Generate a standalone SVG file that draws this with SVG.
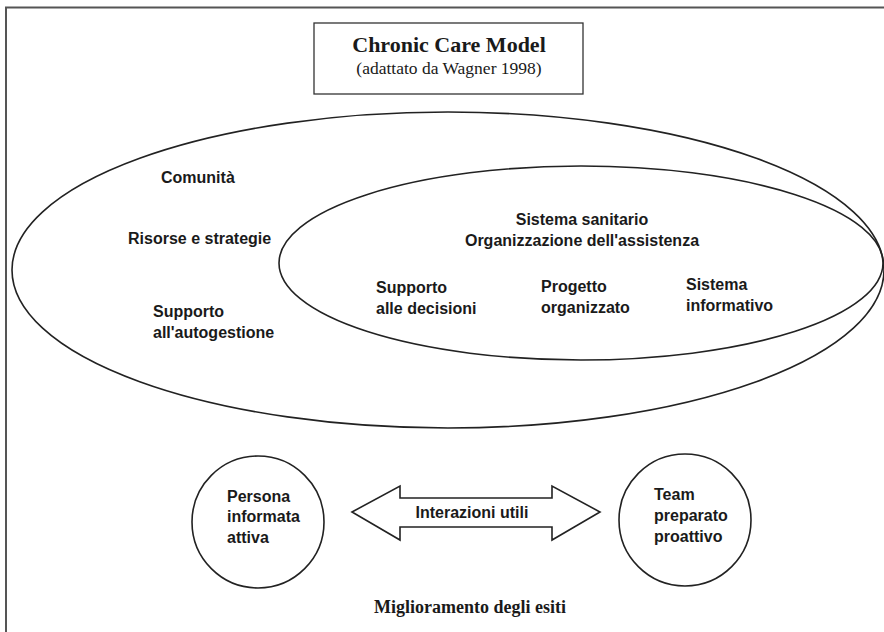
<svg xmlns="http://www.w3.org/2000/svg" width="884" height="632" viewBox="0 0 884 632">
<style>
.ln{fill:none;stroke:#222;stroke-width:1.6}
.sans{font-family:"Liberation Sans",Arial,sans-serif;font-weight:bold;font-size:16px;fill:#1a1a1a}
.serif{font-family:"Liberation Serif","Times New Roman",serif;fill:#1a1a1a}
</style>
<rect width="884" height="632" fill="#fff"/>
<g id="frame"><path d="M6,632 V7.5 H884" fill="none" stroke="#555" stroke-width="2"/></g>
<g id="title">
<rect x="314" y="23" width="269" height="71" fill="#fff" stroke="#333" stroke-width="1.3"/>
<text class="serif" x="449" y="52" text-anchor="middle" font-size="22" font-weight="bold">Chronic Care Model</text>
<text class="serif" x="449" y="74" text-anchor="middle" font-size="17.5">(adattato da Wagner 1998)</text>
</g>
<g id="comunita">
<ellipse class="ln" cx="448" cy="270" rx="436" ry="158"/>
<text class="sans" x="161" y="183">Comunità</text>
<text class="sans" x="128" y="244">Risorse e strategie</text>
<text class="sans" x="153" y="317">Supporto</text>
<text class="sans" x="153" y="338">all'autogestione</text>
</g>
<g id="sistema">
<ellipse class="ln" cx="581" cy="263" rx="302" ry="97"/>
<text class="sans" x="582" y="225" text-anchor="middle">Sistema sanitario</text>
<text class="sans" x="582" y="246" text-anchor="middle">Organizzazione dell'assistenza</text>
<text class="sans" x="376" y="293">Supporto</text>
<text class="sans" x="376" y="314">alle decisioni</text>
<text class="sans" x="541" y="292">Progetto</text>
<text class="sans" x="541" y="313">organizzato</text>
<text class="sans" x="686" y="290">Sistema</text>
<text class="sans" x="686" y="311">informativo</text>
</g>
<g id="persona">
<ellipse class="ln" cx="258" cy="522" rx="66" ry="66"/>
<text class="sans" x="227" y="502">Persona</text>
<text class="sans" x="227" y="522">informata</text>
<text class="sans" x="227" y="543">attiva</text>
</g>
<g id="team">
<ellipse class="ln" cx="685" cy="520" rx="66" ry="66"/>
<text class="sans" x="654" y="500">Team</text>
<text class="sans" x="654" y="521">preparato</text>
<text class="sans" x="654" y="542">proattivo</text>
</g>
<g id="connectors">
<polygon class="ln" points="352,512 400,486 400,498 552,498 552,486 600,512 552,540 552,527 400,527 400,540"/>
<text class="sans" x="472" y="518" text-anchor="middle">Interazioni utili</text>
</g>
<g id="esiti">
<text class="serif" x="470" y="613" text-anchor="middle" font-size="18" font-weight="bold">Miglioramento degli esiti</text>
</g>
</svg>
